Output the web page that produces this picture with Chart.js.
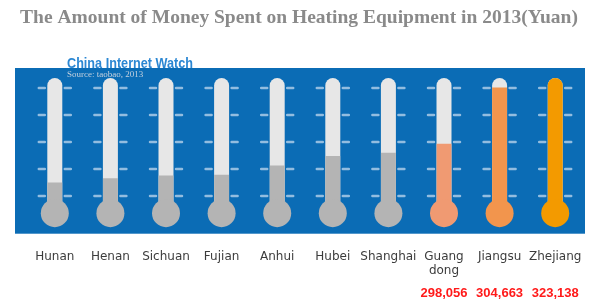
<!DOCTYPE html>
<html>
<head>
<meta charset="utf-8">
<script src="https://cdn.jsdelivr.net/npm/chart.js@4.4.1/dist/chart.umd.min.js"></script>
<style>
  html, body { margin: 0; padding: 0; background: #ffffff; }
  #wrap { width: 600px; height: 307px; }
</style>
</head>
<body>
<div id="wrap"><canvas id="chart"></canvas></div>
<script>
// Spending on heating equipment by province, 2013 (Yuan)
const provinces = ['Hunan', 'Henan', 'Sichuan', 'Fujian', 'Anhui', 'Hubei', 'Shanghai', ['Guang', 'dong'], 'Jiangsu', 'Zhejiang'];
const spending = [293500, 294000, 294300, 294400, 295500, 296600, 297000, 298056, 304663, 323138];
// provinces whose amount is printed under the label
const labelledIdx = [7, 8, 9];
const mercuryColors = ['#b4b4b4', '#b4b4b4', '#b4b4b4', '#b4b4b4', '#b4b4b4', '#b4b4b4', '#b4b4b4', '#f09a72', '#f2954d', '#f39a00'];
// thermometer scale range
const scaleMin = 287500;
const scaleMax = 307000;

const PANEL = '#0b6cb5';
const TRACK = '#e7e7e7';
const DASH = '#93bde0';
const TUBE_W = 15;
const BULB_R = 14;

function tubePath(ctx, cx, top, bottom) {
  const r = TUBE_W / 2;
  ctx.moveTo(cx - r, bottom);
  ctx.lineTo(cx - r, top + r);
  ctx.arc(cx, top + r, r, Math.PI, 0);
  ctx.lineTo(cx + r, bottom);
  ctx.closePath();
}

// draws text squeezed horizontally to a given width
function condensedText(ctx, text, x, y, width) {
  const w = ctx.measureText(text).width;
  ctx.save();
  ctx.translate(x, y);
  ctx.scale(Math.min(1, width / w), 1);
  ctx.fillText(text, 0, 0);
  ctx.restore();
}

const thermometers = {
  id: 'thermometers',
  beforeDraw(chart) {
    const { ctx, chartArea: a } = chart;
    ctx.save();
    ctx.fillStyle = PANEL;
    ctx.fillRect(a.left - 12, a.top, a.right - a.left + 14, a.bottom - a.top);
    ctx.fillStyle = '#2b87d3';
    ctx.font = 'bold 15px "Liberation Sans", Arial, sans-serif';
    ctx.textBaseline = 'alphabetic';
    condensedText(ctx, 'China Internet Watch', a.left + 40, a.top, 126);
    ctx.fillStyle = '#c5d1de';
    ctx.font = '9px "Liberation Serif", serif';
    ctx.fillText('Source: taobao, 2013', a.left + 40, a.top + 9);
    ctx.restore();
  },
  beforeDatasetsDraw(chart) {
    const { ctx, chartArea: a } = chart;
    const x = chart.scales.x;
    const top = a.top + 10;
    const bulbY = a.bottom - 20.5;
    ctx.save();
    // graduation marks on both sides of each tube
    ctx.strokeStyle = DASH;
    ctx.lineWidth = 2.5;
    ctx.lineCap = 'round';
    provinces.forEach((_, i) => {
      const cx = x.getPixelForValue(i);
      for (let g = 0; g < 5; g++) {
        const y = top + 10 + g * 27;
        ctx.beginPath();
        ctx.moveTo(cx - 16, y); ctx.lineTo(cx - 10, y);
        ctx.moveTo(cx + 10, y); ctx.lineTo(cx + 16, y);
        ctx.stroke();
      }
    });
    // empty glass tubes
    ctx.fillStyle = TRACK;
    provinces.forEach((_, i) => {
      ctx.beginPath();
      tubePath(ctx, x.getPixelForValue(i), top, bulbY);
      ctx.fill();
    });
    // mercury columns stay inside the tubes
    ctx.beginPath();
    provinces.forEach((_, i) => tubePath(ctx, x.getPixelForValue(i), top, bulbY));
    ctx.clip();
  },
  afterDatasetsDraw(chart) {
    const { ctx, chartArea: a } = chart;
    const x = chart.scales.x;
    ctx.restore();
    const bulbY = a.bottom - 20.5;
    ctx.save();
    provinces.forEach((_, i) => {
      ctx.fillStyle = mercuryColors[i];
      ctx.beginPath();
      ctx.arc(x.getPixelForValue(i), bulbY, BULB_R, 0, Math.PI * 2);
      ctx.fill();
    });
    // amounts printed below the names
    ctx.fillStyle = '#ff1a1a';
    ctx.font = 'bold 13px "Liberation Sans", Arial, sans-serif';
    ctx.textAlign = 'center';
    ctx.textBaseline = 'middle';
    labelledIdx.forEach(i => {
      ctx.fillText(spending[i].toLocaleString('en-US'), x.getPixelForValue(i), a.bottom + 60);
    });
    ctx.restore();
  }
};

new Chart(document.getElementById('chart'), {
  type: 'bar',
  data: {
    labels: provinces,
    datasets: [{
      data: spending,
      backgroundColor: mercuryColors,
      borderWidth: 0,
      barThickness: TUBE_W,
      clip: false
    }]
  },
  options: {
    responsive: true,
    maintainAspectRatio: false,
    animation: false,
    layout: { padding: { left: 15, right: 17, top: 0, bottom: 12.5 } },
    plugins: {
      legend: { display: false },
      tooltip: { enabled: false },
      title: {
        display: true,
        text: 'The Amount of Money Spent on Heating Equipment in 2013(Yuan)',
        color: '#8a8a8a',
        font: { family: '"Liberation Serif", "Times New Roman", serif', size: 19.5, weight: 'bold', lineHeight: 1.2 },
        padding: { top: 6.3, bottom: 38.3 }
      }
    },
    scales: {
      x: {
        type: 'category',
        offset: true,
        grid: { display: false, drawTicks: false, tickLength: 0 },
        border: { display: false },
        ticks: {
          autoSkip: false,
          maxRotation: 0,
          padding: 16,
          color: '#3c3c3c',
          font: { family: '"DejaVu Sans", sans-serif', size: 12, lineHeight: 1.2 }
        }
      },
      y: {
        display: true,
        min: scaleMin,
        max: scaleMax,
        grid: { display: false, drawTicks: false },
        border: { display: false },
        ticks: { display: false },
        afterFit(scale) { scale.width = 12; }
      }
    }
  },
  plugins: [thermometers]
});
</script>
</body>
</html>
